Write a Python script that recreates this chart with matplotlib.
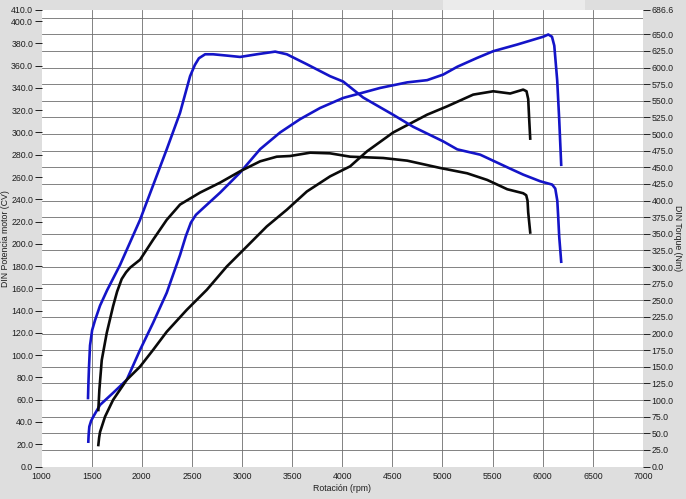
import matplotlib
matplotlib.use("Agg")
import matplotlib.pyplot as plt
import numpy as np
from matplotlib.patches import Rectangle

plt.rcParams['font.family'] = ['Liberation Sans', 'DejaVu Sans']

# ---- data ----
blue_torque_rpm = [1464, 1468, 1474, 1484, 1505, 1534, 1584, 1654, 1783, 1983, 2249, 2382, 2482, 2530, 2570,
                   2632, 2712, 2850, 2981, 3148, 3331, 3447, 3647, 3879, 4009, 4208, 4508, 4707, 5007,
                   5147, 5376, 5646, 5805, 5975, 6094, 6125, 6145, 6154, 6164, 6184]
blue_torque_nm = [103, 125, 150, 182, 205, 220, 242, 265, 303, 371, 477, 532, 587, 604, 614,
                  620, 620, 618, 616, 620, 624, 620, 605, 587, 579, 555, 529, 511, 489,
                  477, 469, 450, 439, 429, 424, 418, 400, 376, 346, 308]

blue_power_rpm = [1467, 1470, 1477, 1495, 1517, 1550, 1584, 1714, 1850, 1983, 2113, 2249, 2382, 2440,
                  2490, 2540, 2612, 2782, 2981, 3181, 3380, 3580, 3779, 4009, 4378, 4648, 4847, 5007,
                  5147, 5346, 5506, 5746, 6005, 6055, 6092, 6115, 6130, 6144, 6164, 6184]
blue_power_cv = [22.3, 28, 35.8, 41, 44.8, 50, 55.3, 66.1, 77.8, 104.7, 129, 156, 190, 207,
                 219, 226, 232, 246, 264, 285, 300, 312, 322, 331, 340, 345, 347, 352,
                 359, 367, 373, 379, 386, 388, 386, 378, 362, 347, 312, 271]

black_torque_rpm = [1567, 1577, 1601, 1651, 1714, 1754, 1800, 1843, 1883, 1983, 2113, 2249, 2382, 2582,
                    2782, 2981, 3181, 3347, 3480, 3680, 3879, 4079, 4408, 4648, 4977, 5246, 5446, 5646,
                    5805, 5835, 5848, 5855, 5875]
black_torque_nm = [85, 115, 160, 201, 241, 263, 282, 292, 299, 311, 341, 371, 394, 412,
                   427, 444, 459, 466, 467, 472, 471, 466, 464, 460, 449, 441, 431, 417,
                   411, 408, 400, 382, 352]

black_power_rpm = [1567, 1575, 1584, 1634, 1714, 1850, 1983, 2113, 2249, 2449, 2649, 2848, 3048, 3247,
                   3447, 3647, 3879, 4079, 4246, 4508, 4847, 5047, 5306, 5506, 5675, 5805, 5838, 5855,
                   5865, 5875]
black_power_cv = [19.3, 26, 31, 44.8, 59.8, 77.8, 89.7, 104.7, 121, 140.7, 158.7, 179.6, 197.6, 215.6,
                  230.6, 247, 260.6, 269.6, 283, 300, 316, 323.5, 334, 337, 335, 338.5, 337, 330,
                  311.5, 294.5]

x_ticks = list(range(1000, 7001, 500))
left_ticks = list(range(0, 401, 20)) + [410]
right_ticks = list(range(0, 651, 25)) + [686.6]
grid_h = list(range(0, 676, 25))
grid_v = list(range(1500, 6501, 500))

CV_MAX = 410.0
NM_MAX = 686.6

BLUE = '#1414c8'
BLACK = '#0a0a0a'
BG = '#dedede'
TXT = '#1e1e1e'

fig = plt.figure(figsize=(6.86, 4.99), dpi=100, facecolor=BG)
rect = [41.5 / 686, 1 - 466.5 / 499, (643 - 41.5) / 686, (466.5 - 10) / 499]

# faint box at top (cut-off header)
fig.patches.append(Rectangle((443 / 686, 1 - 10 / 499), (585 - 443) / 686, 10 / 499,
                             transform=fig.transFigure, facecolor='#ebebeb', edgecolor='none'))

# grid axes (background)
gax = fig.add_axes(rect)
gax.set_facecolor('white')
gax.set_xlim(1000, 7000)
gax.set_ylim(0, NM_MAX)
gax.set_xticks(grid_v)
gax.set_yticks(grid_h)
gax.grid(True, color='#6e6e6e', linewidth=0.6)
gax.tick_params(length=0, labelbottom=False, labelleft=False)
for s in gax.spines.values():
    s.set_visible(False)

ax = fig.add_axes(rect)
ax.patch.set_visible(False)
ax2 = ax.twinx()
ax2.patch.set_visible(False)

LW = 1.9
ax2.plot(blue_torque_rpm, blue_torque_nm, color=BLUE, lw=LW, solid_joinstyle='round')
ax.plot(blue_power_rpm, blue_power_cv, color=BLUE, lw=LW, solid_joinstyle='round')
ax2.plot(black_torque_rpm, black_torque_nm, color=BLACK, lw=LW, solid_joinstyle='round')
ax.plot(black_power_rpm, black_power_cv, color=BLACK, lw=LW, solid_joinstyle='round')

ax.set_xlim(1000, 7000)
ax.set_ylim(0, CV_MAX)
ax2.set_ylim(0, NM_MAX)

ax.set_xticks(x_ticks)
ax.set_xticklabels([str(v) for v in x_ticks])
ax.set_yticks(left_ticks)
ax.set_yticklabels(['%.1f' % v for v in left_ticks])
ax2.set_yticks(right_ticks)
ax2.set_yticklabels(['%.1f' % v for v in right_ticks])

for a in (ax, ax2):
    for s in a.spines.values():
        s.set_visible(False)

ax.tick_params(axis='x', length=0, pad=4, labelsize=6.3, colors=TXT)
ax.tick_params(axis='y', length=5, width=0.7, pad=1, labelsize=6.3, colors=TXT)
ax2.tick_params(axis='y', length=5, width=0.7, pad=1, labelsize=6.3, colors=TXT)

ax.set_xlabel('Rotación (rpm)', fontsize=6.3, color=TXT, labelpad=2)
ax.set_ylabel('DIN Potencia motor (CV)', fontsize=6.3, color=TXT, labelpad=1)
ax2.set_ylabel('DIN Torque (Nm)', fontsize=6.3, color=TXT, rotation=270, labelpad=6)

fig.savefig('out.png', dpi=100, facecolor=BG)
